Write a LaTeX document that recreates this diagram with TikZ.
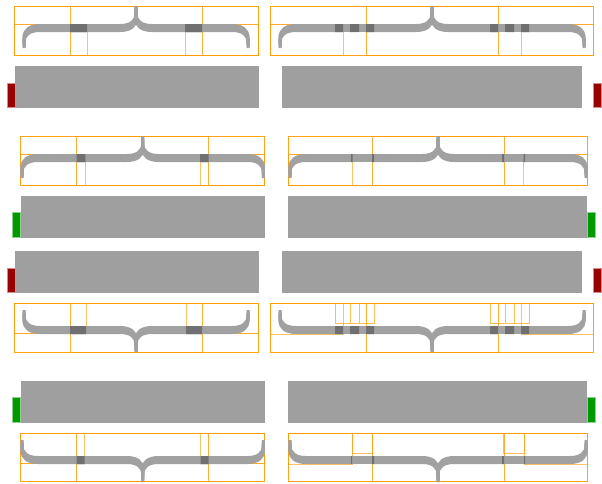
\documentclass[tikz,border=0pt]{standalone}
\definecolor{barfill}{RGB}{159,159,159}
\definecolor{bracegray}{RGB}{161,161,161}
\definecolor{bracedark}{RGB}{112,112,112}
\definecolor{boxorange}{RGB}{255,153,0}
\definecolor{stopred}{RGB}{153,0,0}
\definecolor{gogreen}{RGB}{0,153,0}

% one calligraphic stroke: a flat nib swept along the path
\newcommand{\nibpath}[1]{%
  \foreach \s in {-2.5,-1.25,0,1.25,2.5}{\draw[nib, yshift=\s pt] #1;}}
% end pieces and middle piece, #1 = tip offset, #2 = inner end of the end pieces
\newcommand{\bracepieces}[2]{%
  \nibpath{(-#1,17.5) -- (-#1,12) .. controls (-#1,4) and (-#1+6,0) .. (-#1+16,0) -- (-#2,0)}
  \nibpath{(#1,17.5) -- (#1,12) .. controls (#1,4) and (#1-6,0) .. (#1-16,0) -- (#2,0)}
  \nibpath{(-66,0) -- (-16,0) .. controls (-6,0) and (0,-4) .. (0,-12) -- (0,-19.5)}
  \nibpath{(66,0) -- (16,0) .. controls (6,0) and (0,-4) .. (0,-12) -- (0,-19.5)}}
\newcommand{\darkpair}[2]{\fill[overlap] (-#2,-4) rectangle (-#1,4) (#1,-4) rectangle (#2,4);}

\begin{document}
\begin{tikzpicture}[x=1pt, y=-1pt,
    bar/.style={fill=barfill},
    stopflag/.style={fill=stopred, draw=stopred!45, line width=0.6pt},
    goflag/.style={fill=gogreen, draw=gogreen!45, line width=0.6pt},
    nib/.style={draw=bracegray, line width=3pt},
    overlap/.style={fill=bracedark},
    outerbox/.style={draw=boxorange, draw opacity=0.9, line width=1pt},
    piecebox/.style={draw=boxorange, draw opacity=0.6, line width=1pt},
    midbox/.style={draw=boxorange, draw opacity=0.8, line width=1pt},
    fillbox/.style={draw=boxorange, draw opacity=0.65, line width=1pt}]
  \useasboundingbox (0,0) rectangle (602,483);

  % Bars and flags
  \fill[bar] (15,66) rectangle (259,107.7);
  \filldraw[stopflag] (7,83) rectangle (15,107.7);
  \fill[bar] (282,66) rectangle (582,107.7);
  \filldraw[stopflag] (593.3,83) rectangle (601.5,107.7);
  \fill[bar] (20.7,196) rectangle (265,237.7);
  \filldraw[goflag] (12.7,212.3) rectangle (20.7,237.7);
  \fill[bar] (288,196) rectangle (587.3,237.7);
  \filldraw[goflag] (587.3,212.3) rectangle (595.7,237.7);
  \fill[bar] (15,251) rectangle (259,292.7);
  \filldraw[stopflag] (7,268.3) rectangle (15,292.7);
  \fill[bar] (282,251) rectangle (582,292.7);
  \filldraw[stopflag] (593.3,268.3) rectangle (601.5,292.7);
  \fill[bar] (20.7,381) rectangle (265,422.7);
  \filldraw[goflag] (12.7,397.7) rectangle (20.7,422.7);
  \fill[bar] (288,381) rectangle (587.3,422.7);
  \filldraw[goflag] (587.3,397.7) rectangle (595.7,422.7);

  % Braces above the bars
  \begin{scope}[shift={(136,28)}]
    \draw[outerbox] (-122,-22) rectangle (122,27);
    \draw[piecebox] (-122,-4) -- (122,-4);
    \draw[piecebox] (-122,-4) rectangle (-49,27) (49,-4) rectangle (122,27);
    \draw[midbox] (-66,-22) rectangle (66,27);
    \bracepieces{112}{49}
    \darkpair{49}{66}
  \end{scope}
  \begin{scope}[shift={(432,28)}]
    \draw[outerbox] (-162,-22) rectangle (161.5,27);
    \draw[piecebox] (-162,-4) -- (161.5,-4);
    \draw[piecebox] (-162,-4) rectangle (-89,27) (89,-4) rectangle (161.5,27);
    \draw[midbox] (-66,-22) rectangle (66,27);
    \bracepieces{152}{89}
    \nibpath{(-97,0) -- (-73,0)}
    \nibpath{(-82,0) -- (-58,0)}
    \nibpath{(58,0) -- (82,0)}
    \nibpath{(73,0) -- (97,0)}
    \darkpair{89}{97}
    \darkpair{73}{82}
    \darkpair{58}{66}
  \end{scope}
  \begin{scope}[shift={(142.7,158)}]
    \draw[outerbox] (-122.2,-22) rectangle (122,27.3);
    \draw[piecebox] (-122.2,-3.7) -- (122,-3.7);
    \draw[piecebox] (-122.2,-3.7) rectangle (-57.4,27.3) (57.4,-3.7) rectangle (122,27.3);
    \draw[midbox] (-66,-22) rectangle (66,27.3);
    \bracepieces{120.7}{57.4}
    \darkpair{57.4}{66}
  \end{scope}
  \begin{scope}[shift={(438,158)}]
    \draw[outerbox] (-149.7,-22) rectangle (149.3,27.3);
    \draw[piecebox] (-149.7,-3.7) -- (149.3,-3.7);
    \draw[piecebox] (-149.7,-3.7) rectangle (-85.5,27.3) (85.5,-3.7) rectangle (149.3,27.3);
    \draw[midbox] (-66,-22) rectangle (66,27.3);
    \bracepieces{148}{85.5}
    \nibpath{(-87,0) -- (-64,0)}
    \nibpath{(64,0) -- (87,0)}
    \darkpair{85.5}{87}
    \darkpair{64}{66}
  \end{scope}

  % Braces below the bars
  \begin{scope}[shift={(136,330)}, yscale=-1]
    \draw[outerbox] (-122,-22.3) rectangle (122,26.3);
    \draw[piecebox] (-122,-3.7) -- (122,-3.7);
    \draw[piecebox] (-122,-3.7) rectangle (-50,26.3) (50,-3.7) rectangle (122,26.3);
    \draw[midbox] (-66,-22.3) rectangle (66,26.3);
    \bracepieces{112}{50}
    \darkpair{50}{66}
  \end{scope}
  \begin{scope}[shift={(432,330)}, yscale=-1]
    \draw[outerbox] (-162,-22.3) rectangle (161.5,26.3);
    \draw[piecebox] (-162,-4) rectangle (-89,26.3) (89,-4) rectangle (161.5,26.3);
    \draw[fillbox] (-97,6.3) rectangle (-73,26.3) (-82,6.3) rectangle (-58,26.3);
    \draw[fillbox] (58,6.3) rectangle (82,26.3) (73,6.3) rectangle (97,26.3);
    \draw[midbox] (-66,-22.3) rectangle (66,26.3);
    \bracepieces{152}{89}
    \nibpath{(-97,0) -- (-73,0)}
    \nibpath{(-82,0) -- (-58,0)}
    \nibpath{(58,0) -- (82,0)}
    \nibpath{(73,0) -- (97,0)}
    \darkpair{89}{97}
    \darkpair{73}{82}
    \darkpair{58}{66}
  \end{scope}
  \begin{scope}[shift={(142.7,460)}, yscale=-1]
    \draw[outerbox] (-122.2,-21.7) rectangle (122,26.3);
    \draw[piecebox] (-122.2,-3.7) -- (122,-3.7);
    \draw[piecebox] (-122.2,-3.7) rectangle (-58,26.3) (58,-3.7) rectangle (122,26.3);
    \draw[midbox] (-66,-21.7) rectangle (66,26.3);
    \bracepieces{120.7}{58}
    \darkpair{58}{66}
  \end{scope}
  \begin{scope}[shift={(438,460)}, yscale=-1]
    \draw[outerbox] (-149.7,-21.7) rectangle (149.3,26.3);
    \draw[piecebox] (-149.7,-4) rectangle (-86,26.3) (86,-4) rectangle (149.3,26.3);
    \draw[fillbox] (-86,6.3) rectangle (-65.7,26.3) (65.7,6.3) rectangle (86,26.3);
    \draw[midbox] (-66,-21.7) rectangle (66,26.3);
    \bracepieces{148}{86}
    \nibpath{(-87,0) -- (-64,0)}
    \nibpath{(64,0) -- (87,0)}
    \darkpair{86}{87}
    \darkpair{64}{66}
  \end{scope}
\end{tikzpicture}
\end{document}
